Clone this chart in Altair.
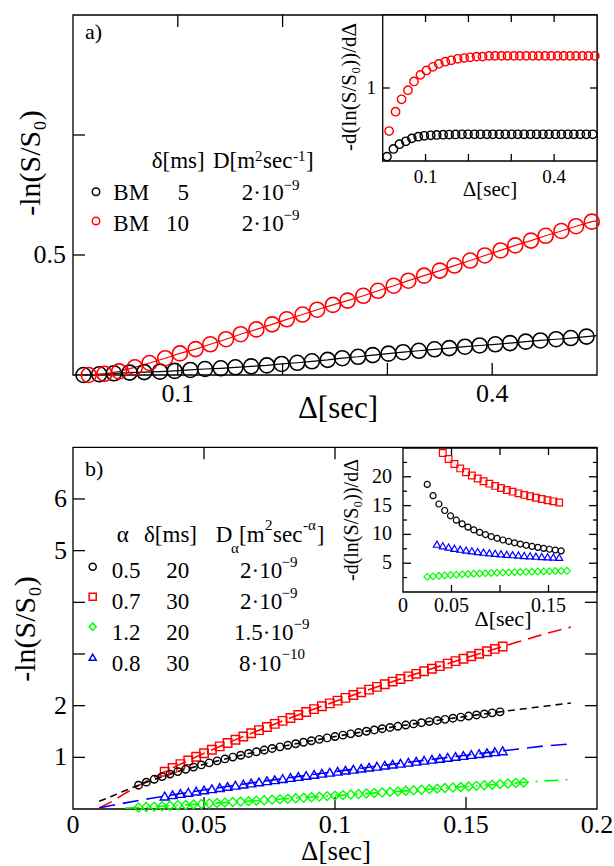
import altair as alt
import pandas as pd

# ------------------------------------------------------------------ data
# panel a) main: -ln(S/S0) vs Delta [sec]  (BM, delta = 5 ms / 10 ms)
a_delta_black = [0.010, 0.025, 0.039, 0.054, 0.068, 0.083, 0.097, 0.112, 0.126, 0.141,
                 0.155, 0.170, 0.185, 0.199, 0.214, 0.228, 0.243, 0.257, 0.272, 0.286,
                 0.301, 0.315, 0.330, 0.345, 0.359, 0.374, 0.388, 0.403, 0.417, 0.432,
                 0.446, 0.461, 0.475, 0.490]
a_lnS_black = [0.000, 0.003, 0.007, 0.010, 0.012, 0.014, 0.017, 0.021, 0.025, 0.028,
               0.032, 0.036, 0.040, 0.046, 0.051, 0.057, 0.063, 0.070, 0.076, 0.083,
               0.089, 0.095, 0.101, 0.107, 0.112, 0.118, 0.123, 0.128, 0.133, 0.139,
               0.144, 0.149, 0.154, 0.160]
a_delta_red = [0.015, 0.030, 0.044, 0.059, 0.073, 0.088, 0.102, 0.117, 0.131, 0.146,
               0.160, 0.175, 0.190, 0.204, 0.219, 0.233, 0.248, 0.262, 0.277, 0.291,
               0.306, 0.320, 0.335, 0.350, 0.364, 0.379, 0.393, 0.408, 0.422, 0.437,
               0.451, 0.466, 0.480, 0.495]
a_lnS_red = [0.000, 0.005, 0.015, 0.032, 0.050, 0.070, 0.090, 0.108, 0.128, 0.149,
             0.170, 0.190, 0.211, 0.232, 0.252, 0.272, 0.292, 0.310, 0.330, 0.351,
             0.372, 0.393, 0.414, 0.435, 0.456, 0.477, 0.498, 0.519, 0.540, 0.560,
             0.580, 0.600, 0.620, 0.639]
# end of the fitted lines at Delta = 0.5
a_fit_end_delta = 0.5
a_fit_end_black = 0.164
a_fit_end_red = 0.642

# panel a) inset: -d(ln(S/S0))/dDelta
ai_deriv_black = [0.060, 0.165, 0.230, 0.270, 0.310, 0.333, 0.345, 0.352, 0.357, 0.360,
                  0.362, 0.364, 0.365, 0.366, 0.366, 0.366, 0.366, 0.366, 0.366, 0.366,
                  0.366, 0.366, 0.366, 0.366, 0.366, 0.366, 0.366, 0.366, 0.366, 0.366,
                  0.366, 0.366, 0.366, 0.366]
ai_deriv_red = [0.410, 0.675, 0.845, 0.970, 1.090, 1.180, 1.240, 1.290, 1.330, 1.360,
                1.380, 1.400, 1.410, 1.420, 1.430, 1.430, 1.440, 1.440, 1.440, 1.440,
                1.440, 1.440, 1.440, 1.440, 1.440, 1.440, 1.440, 1.440, 1.440, 1.440,
                1.440, 1.440, 1.440, 1.440]

# panel b) main
b_delta_black = [0.025, 0.028, 0.031, 0.034, 0.037, 0.040, 0.043, 0.046, 0.049, 0.052,
                 0.055, 0.058, 0.061, 0.064, 0.067, 0.070, 0.073, 0.076, 0.079, 0.082,
                 0.085, 0.088, 0.091, 0.094, 0.097, 0.100, 0.103, 0.106, 0.109, 0.112,
                 0.115, 0.118, 0.121, 0.124, 0.127, 0.130, 0.133, 0.136, 0.139, 0.142,
                 0.145, 0.148, 0.151, 0.154, 0.157, 0.160, 0.163]
b_lnS_black = [0.460, 0.519, 0.575, 0.627, 0.676, 0.724, 0.768, 0.811, 0.853, 0.893,
               0.932, 0.969, 1.005, 1.040, 1.075, 1.108, 1.141, 1.172, 1.203, 1.233,
               1.263, 1.292, 1.321, 1.348, 1.376, 1.402, 1.429, 1.455, 1.480, 1.505,
               1.530, 1.554, 1.578, 1.601, 1.625, 1.647, 1.670, 1.692, 1.714, 1.735,
               1.757, 1.778, 1.799, 1.820, 1.840, 1.861, 1.880]
b_delta_red = [0.035, 0.038, 0.041, 0.044, 0.047, 0.050, 0.053, 0.056, 0.059, 0.062,
               0.065, 0.068, 0.071, 0.074, 0.077, 0.080, 0.083, 0.086, 0.089, 0.092,
               0.095, 0.098, 0.101, 0.104, 0.107, 0.110, 0.113, 0.116, 0.119, 0.122,
               0.125, 0.128, 0.131, 0.134, 0.137, 0.140, 0.143, 0.146, 0.149, 0.152,
               0.155, 0.158, 0.161, 0.164]
b_lnS_red = [0.720, 0.795, 0.868, 0.940, 1.010, 1.078, 1.146, 1.212, 1.276, 1.341,
             1.403, 1.466, 1.527, 1.587, 1.647, 1.705, 1.762, 1.820, 1.877, 1.933,
             1.988, 2.044, 2.098, 2.151, 2.206, 2.258, 2.310, 2.363, 2.415, 2.466,
             2.517, 2.566, 2.616, 2.666, 2.715, 2.765, 2.814, 2.862, 2.909, 2.956,
             3.005, 3.052, 3.098, 3.145]
b_delta_blue = [0.035, 0.038, 0.041, 0.044, 0.047, 0.050, 0.053, 0.056, 0.059, 0.062,
                0.065, 0.068, 0.071, 0.074, 0.077, 0.080, 0.083, 0.086, 0.089, 0.092,
                0.095, 0.098, 0.101, 0.104, 0.107, 0.110, 0.113, 0.116, 0.119, 0.122,
                0.125, 0.128, 0.131, 0.134, 0.137, 0.140, 0.143, 0.146, 0.149, 0.152,
                0.155, 0.158, 0.161, 0.164]
b_lnS_blue = [0.250, 0.275, 0.299, 0.322, 0.346, 0.369, 0.392, 0.415, 0.437, 0.460,
              0.481, 0.503, 0.524, 0.546, 0.567, 0.588, 0.609, 0.629, 0.650, 0.670,
              0.691, 0.711, 0.730, 0.751, 0.770, 0.790, 0.809, 0.828, 0.848, 0.867,
              0.886, 0.905, 0.924, 0.943, 0.962, 0.980, 0.999, 1.017, 1.036, 1.054,
              1.072, 1.090, 1.108, 1.126]
b_delta_green = [0.025, 0.028, 0.031, 0.034, 0.037, 0.040, 0.043, 0.046, 0.049, 0.052,
                 0.055, 0.058, 0.061, 0.064, 0.067, 0.070, 0.073, 0.076, 0.079, 0.082,
                 0.085, 0.088, 0.091, 0.094, 0.097, 0.100, 0.103, 0.106, 0.109, 0.112,
                 0.115, 0.118, 0.121, 0.124, 0.127, 0.130, 0.133, 0.136, 0.139, 0.142,
                 0.145, 0.148, 0.151, 0.154, 0.157, 0.160, 0.163, 0.166, 0.169, 0.172]
b_lnS_green = [0.030, 0.038, 0.046, 0.054, 0.063, 0.071, 0.080, 0.089, 0.097, 0.106,
               0.115, 0.124, 0.134, 0.143, 0.152, 0.162, 0.171, 0.181, 0.190, 0.200,
               0.209, 0.219, 0.229, 0.239, 0.249, 0.259, 0.269, 0.279, 0.290, 0.300,
               0.310, 0.321, 0.331, 0.341, 0.352, 0.362, 0.373, 0.384, 0.394, 0.405,
               0.416, 0.426, 0.437, 0.448, 0.459, 0.470, 0.481, 0.492, 0.503, 0.514]

# panel b) theory curves (dashed)
bt_delta = [0.010, 0.015, 0.020, 0.025, 0.030, 0.035, 0.040, 0.050, 0.060, 0.070, 0.080,
            0.090, 0.100, 0.110, 0.120, 0.130, 0.140, 0.150, 0.160, 0.170, 0.180, 0.190]
bt_black = [0.150, 0.250, 0.360, 0.460, 0.556, 0.642, 0.724, 0.866, 0.993, 1.108, 1.213,
            1.311, 1.402, 1.489, 1.570, 1.647, 1.722, 1.792, 1.861, 1.926, 1.989, 2.050]
bt_red = [0.020, 0.148, 0.306, 0.453, 0.590, 0.720, 0.844, 1.078, 1.298, 1.506, 1.705,
          1.896, 2.080, 2.258, 2.431, 2.601, 2.765, 2.926, 3.082, 3.236, 3.389, 3.520]
bt_blue = [0.020, 0.071, 0.119, 0.164, 0.208, 0.250, 0.291, 0.369, 0.445, 0.518, 0.588,
           0.657, 0.724, 0.790, 0.854, 0.918, 0.980, 1.041, 1.102, 1.162, 1.221, 1.260]
bt_green_delta = [0.020, 0.025, 0.030, 0.040, 0.050, 0.060, 0.070, 0.080, 0.090, 0.100,
                  0.110, 0.120, 0.130, 0.140, 0.150, 0.160, 0.170, 0.180, 0.190]
bt_green = [0.017, 0.030, 0.043, 0.071, 0.100, 0.130, 0.162, 0.193, 0.226, 0.259,
            0.293, 0.327, 0.362, 0.398, 0.434, 0.470, 0.507, 0.544, 0.570]

# panel b) inset: -d(ln(S/S0))/dDelta
bi_delta_black = [0.025, 0.031, 0.037, 0.043, 0.049, 0.055, 0.061, 0.067, 0.073, 0.079,
                  0.085, 0.091, 0.097, 0.103, 0.109, 0.115, 0.121, 0.127, 0.133, 0.139,
                  0.145, 0.151, 0.157, 0.163]
bi_deriv_black = [18.68, 16.73, 15.28, 14.15, 13.23, 12.47, 11.82, 11.27, 10.78, 10.35,
                  9.97, 9.63, 9.32, 9.03, 8.78, 8.54, 8.32, 8.11, 7.92, 7.75,
                  7.58, 7.42, 7.28, 7.14]
bi_delta_red = [0.041, 0.047, 0.053, 0.059, 0.065, 0.071, 0.077, 0.083, 0.089, 0.095,
                0.101, 0.107, 0.113, 0.119, 0.125, 0.131, 0.137, 0.143, 0.149, 0.155,
                0.161]
bi_deriv_red = [24.12, 23.08, 22.21, 21.46, 20.80, 20.22, 19.70, 19.23, 18.81, 18.42,
                18.06, 17.72, 17.42, 17.13, 16.86, 16.61, 16.37, 16.15, 15.94, 15.74,
                15.55]
bi_delta_blue = [0.035, 0.041, 0.047, 0.053, 0.059, 0.065, 0.071, 0.077, 0.083, 0.089,
                 0.095, 0.101, 0.107, 0.113, 0.119, 0.125, 0.131, 0.137, 0.143, 0.149,
                 0.155, 0.161]
bi_deriv_blue = [8.30, 8.03, 7.80, 7.60, 7.43, 7.28, 7.15, 7.03, 6.91, 6.81,
                 6.72, 6.64, 6.55, 6.48, 6.41, 6.34, 6.28, 6.22, 6.16, 6.11,
                 6.06, 6.01]
bi_delta_green = [0.025, 0.031, 0.037, 0.043, 0.049, 0.055, 0.061, 0.067, 0.073, 0.079,
                  0.085, 0.091, 0.097, 0.103, 0.109, 0.115, 0.121, 0.127, 0.133, 0.139,
                  0.145, 0.151, 0.157, 0.163, 0.169]
bi_deriv_green = [2.62, 2.72, 2.81, 2.88, 2.95, 3.01, 3.07, 3.12, 3.17, 3.22,
                  3.26, 3.30, 3.34, 3.37, 3.41, 3.44, 3.47, 3.50, 3.53, 3.56,
                  3.58, 3.61, 3.64, 3.66, 3.68]

# axis domains, ticks and labels
a_x_dom, a_y_dom = [0.0, 0.5], [0.0, 1.5]
ai_x_dom, ai_y_dom = [0.0, 0.5], [0.0, 2.0]
b_x_dom, b_y_dom = [0.0, 0.2], [0.0, 7.0]
bi_x_dom, bi_y_dom = [0.0, 0.2], [0.0, 25.0]
a_x_ticks, a_x_labels = [0.1, 0.2, 0.3, 0.4], [0.1, 0.4]
a_y_ticks, a_y_labels = [0.5, 1.0], [0.5]
ai_x_ticks, ai_x_labels = [0.1, 0.2, 0.3, 0.4], [0.1, 0.4]
ai_y_ticks, ai_y_labels = [1.0], [1.0]
b_x_ticks, b_x_labels = [0.05, 0.1, 0.15], [0.0, 0.05, 0.1, 0.15, 0.2]
b_y_ticks, b_y_labels = [1, 2, 3, 4, 5, 6], [1, 2, 5, 6]
bi_x_ticks, bi_x_labels = [0.05, 0.1, 0.15], [0.0, 0.05, 0.15]
bi_y_major, bi_y_minor, bi_y_labels = [5, 10, 15, 20], [2.5, 7.5, 12.5, 17.5, 22.5], [5, 10, 15, 20]

# axis titles
x_title = "Δ[sec]"
y_title = "-ln(S/S₀)"
inset_y_title = "-d(ln(S/S₀))/dΔ"

# legend texts
legA_model = ["BM", "BM"]
legA_delta = ["5", "10"]
legA_D = ["2·10", "2·10"]
legA_exp = ["−9", "−9"]
legB_alpha = ["0.5", "0.7", "1.2", "0.8"]
legB_delta = ["20", "30", "20", "30"]
legB_D = ["2·10", "2·10", "1.5·10", "8·10"]
legB_exp = ["−9", "−9", "−9", "−10"]

# ------------------------------------------------------------------ style / layout
FONT = "'Liberation Serif', 'Times New Roman', 'DejaVu Serif', serif"
BLACK, RED, GREEN, BLUE = "#000000", "#ff0000", "#00ff00", "#0000ff"
W, H = 524, 794
A_XR, A_YR = [0, W], [360, 0]
AI_XR, AI_YR = [309.7, W], [146, 0]
B_XR, B_YR = [0, W], [H, 432.3]
BI_XR, BI_YR = [330, W], [577, 433]


def sc(dom, rng):
    return alt.Scale(domain=dom, range=rng, nice=False, zero=False)


def frame(xdom, ydom, xs, ys, opaque):
    df = pd.DataFrame({"x0": [xdom[0]], "x1": [xdom[1]], "y0": [ydom[0]], "y1": [ydom[1]]})
    return alt.Chart(df).mark_rect(fill="white", fillOpacity=1 if opaque else 0,
                                   stroke="black", strokeWidth=1.3).encode(
        x=alt.X("x0:Q", scale=xs, axis=None), x2="x1:Q",
        y=alt.Y("y0:Q", scale=ys, axis=None), y2="y1:Q")


def xticks(vals, xs, y0, y1):
    return alt.Chart(pd.DataFrame({"t": vals})).mark_rule(color="black", strokeWidth=1.3).encode(
        x=alt.X("t:Q", scale=xs, axis=None), y=alt.value(y0), y2=alt.value(y1))


def yticks(vals, ys, x0, x1):
    return alt.Chart(pd.DataFrame({"t": vals})).mark_rule(color="black", strokeWidth=1.3).encode(
        y=alt.Y("t:Q", scale=ys, axis=None), x=alt.value(x0), x2=alt.value(x1))


def xlabels(vals, xs, y, size):
    return alt.Chart(pd.DataFrame({"t": vals})).mark_text(
        font=FONT, fontSize=size, align="center", baseline="alphabetic", color="black").encode(
        x=alt.X("t:Q", scale=xs, axis=None), y=alt.value(y),
        text=alt.Text("t:Q", format="~g"))


def ylabels(vals, ys, x, size):
    return alt.Chart(pd.DataFrame({"t": vals})).mark_text(
        font=FONT, fontSize=size, align="right", baseline="middle", color="black").encode(
        y=alt.Y("t:Q", scale=ys, axis=None), x=alt.value(x),
        text=alt.Text("t:Q", format="~g"))


def pts(xv, yv, xs, ys, shape, color, size, sw):
    df = pd.DataFrame({"d": xv, "v": yv})
    return alt.Chart(df).mark_point(shape=shape, filled=False, color=color, size=size,
                                    strokeWidth=sw, opacity=1).encode(
        x=alt.X("d:Q", scale=xs, axis=None), y=alt.Y("v:Q", scale=ys, axis=None))


def line(xv, yv, xs, ys, color, sw, dash=None):
    df = pd.DataFrame({"d": xv, "v": yv})
    kw = dict(color=color, strokeWidth=sw)
    if dash:
        kw["strokeDash"] = dash
    return alt.Chart(df).mark_line(**kw).encode(
        x=alt.X("d:Q", scale=xs, axis=None), y=alt.Y("v:Q", scale=ys, axis=None))


def txt(s, x, y, size, align="left", baseline="alphabetic", angle=0):
    return alt.Chart(alt.Data(values=[{"k": 0}])).mark_text(
        text=s, font=FONT, fontSize=size, align=align, baseline=baseline, angle=angle,
        color="black").encode(x=alt.value(x), y=alt.value(y))


def sym(shape, color, size, x, y):
    return alt.Chart(alt.Data(values=[{"k": 0}])).mark_point(
        shape=shape, filled=False, color=color, size=size, strokeWidth=1.5,
        opacity=1).encode(x=alt.value(x), y=alt.value(y))


# ------------------------------------------------------------------ panel a main
axs, ays = sc(a_x_dom, A_XR), sc(a_y_dom, A_YR)
A_main = alt.layer(
    frame(a_x_dom, a_y_dom, axs, ays, False),
    xticks(a_x_ticks, axs, 360, 348),
    xticks(a_x_ticks, axs, 0, 12),
    yticks(a_y_ticks, ays, 0, 12),
    xlabels(a_x_labels, axs, 387, 26),
    ylabels(a_y_labels, ays, -7, 26),
    line(a_delta_black + [a_fit_end_delta], a_lnS_black + [a_fit_end_black], axs, ays, BLACK, 1.2),
    line(a_delta_red + [a_fit_end_delta], a_lnS_red + [a_fit_end_red], axs, ays, RED, 1.2),
    pts(a_delta_black, a_lnS_black, axs, ays, "circle", BLACK, 225, 1.6),
    pts(a_delta_red, a_lnS_red, axs, ays, "circle", RED, 225, 1.6),
)

# ------------------------------------------------------------------ panel b main
bxs, bys = sc(b_x_dom, B_XR), sc(b_y_dom, B_YR)
B_main = alt.layer(
    frame(b_x_dom, b_y_dom, bxs, bys, False),
    xticks(b_x_ticks, bxs, H, H - 12),
    xticks(b_x_ticks, bxs, 432.3, 444.3),
    yticks(b_y_ticks, bys, 0, 12),
    yticks(b_y_ticks, bys, W, W - 12),
    xlabels(b_x_labels, bxs, 817.5, 26),
    ylabels(b_y_labels, bys, -6, 26),
    line(bt_delta, bt_red, bxs, bys, RED, 1.6, [14, 7]),
    line(bt_delta, bt_black, bxs, bys, BLACK, 1.6, [7, 5]),
    line(bt_delta, bt_blue, bxs, bys, BLUE, 1.6, [16, 8]),
    line(bt_green_delta, bt_green, bxs, bys, GREEN, 1.6, [14, 7, 2, 7]),
    pts(b_delta_red, b_lnS_red, bxs, bys, "square", RED, 72, 1.4),
    pts(b_delta_black, b_lnS_black, bxs, bys, "circle", BLACK, 56, 1.4),
    pts(b_delta_blue, b_lnS_blue, bxs, bys, "triangle-up", BLUE, 80, 1.4),
    pts(b_delta_green, b_lnS_green, bxs, bys, "diamond", GREEN, 80, 1.4),
)

# ------------------------------------------------------------------ panel a inset
aixs, aiys = sc(ai_x_dom, AI_XR), sc(ai_y_dom, AI_YR)
A_inset = alt.layer(
    frame(ai_x_dom, ai_y_dom, aixs, aiys, True),
    xticks(ai_x_ticks, aixs, 0, 7),
    xticks(ai_x_ticks, aixs, 146, 139),
    yticks(ai_y_ticks, aiys, 309.7, 316.7),
    yticks(ai_y_ticks, aiys, W, W - 7),
    xlabels(ai_x_labels, aixs, 168, 19),
    ylabels(ai_y_labels, aiys, 303, 19),
    pts(a_delta_black, ai_deriv_black, aixs, aiys, "circle", BLACK, 70, 1.4),
    pts(a_delta_red, ai_deriv_red, aixs, aiys, "circle", RED, 70, 1.4),
)

# ------------------------------------------------------------------ panel b inset
bixs, biys = sc(bi_x_dom, BI_XR), sc(bi_y_dom, BI_YR)
B_inset = alt.layer(
    frame(bi_x_dom, bi_y_dom, bixs, biys, True),
    xticks(bi_x_ticks, bixs, 433, 440),
    xticks(bi_x_ticks, bixs, 577, 570),
    yticks(bi_y_major, biys, 330, 338),
    yticks(bi_y_minor, biys, 330, 334),
    yticks(bi_y_major, biys, W, W - 8),
    yticks(bi_y_minor, biys, W, W - 4),
    xlabels(bi_x_labels, bixs, 597, 20),
    ylabels(bi_y_labels, biys, 319, 20),
    pts(bi_delta_red, bi_deriv_red, bixs, biys, "square", RED, 45, 1.2),
    pts(bi_delta_black, bi_deriv_black, bixs, biys, "circle", BLACK, 36, 1.2),
    pts(bi_delta_blue, bi_deriv_blue, bixs, biys, "triangle-up", BLUE, 50, 1.2),
    pts(bi_delta_green, bi_deriv_green, bixs, biys, "diamond", GREEN, 45, 1.2),
)

# ------------------------------------------------------------------ titles / annotations / legends
texts = [
    txt(x_title, 265, 403, 31, "center"),
    txt(x_title, 263, 845, 27, "center"),
    txt(y_title, -42, 148, 30, "center", "middle", 270),
    txt(y_title, -47, 614, 30, "center", "middle", 270),
    txt(x_title, 417, 180.7, 21, "center"),
    txt(inset_y_title, 277, 72, 21, "center", "middle", 270),
    txt(x_title, 430, 611, 22, "center"),
    txt(inset_y_title, 279, 505, 20, "center", "middle", 270),
    txt("a)", 12, 24, 22),
    txt("b)", 12, 461, 22),
]

# legend a
texts += [txt("δ[ms]", 78.7, 153, 23), txt("D[m", 140, 153, 23), txt("2", 182, 146, 15),
          txt("sec", 190, 153, 23), txt("-1", 220, 146, 15), txt("]", 233, 153, 23)]
a_rows_y = [185, 215.7]
a_sym_y = [176.7, 206]
a_colors = [BLACK, RED]
for i in range(2):
    texts += [sym("circle", a_colors[i], 56, 23, a_sym_y[i]),
              txt(legA_model[i], 40.3, a_rows_y[i], 23),
              txt(legA_delta[i], 116, a_rows_y[i], 23, "right"),
              txt(legA_D[i], 168.7, a_rows_y[i], 23),
              txt(legA_exp[i], 210.5, a_rows_y[i] - 10.5, 15)]

# legend b
texts += [txt("α", 43.7, 526.5, 23), txt("δ[ms]", 71, 526.5, 23), txt("D", 142.7, 526.5, 23),
          txt("α", 158, 538, 15), txt("[m", 166, 526.5, 23), txt("2", 192, 515, 15),
          txt("sec", 200, 526.5, 23), txt("-α", 230, 515, 15), txt("]", 243.7, 526.5, 23)]
b_rows_y = [563.3, 594.3, 625, 655.7]
b_sym_y = [551.7, 581.7, 611.7, 642.3]
b_shapes = ["circle", "square", "diamond", "triangle-up"]
b_colors = [BLACK, RED, GREEN, BLUE]
b_D_x = [167, 167, 161, 166]
b_exp_x = [208.5, 208.5, 220.5, 208.5]
for i in range(4):
    texts += [sym(b_shapes[i], b_colors[i], 50, 19.7, b_sym_y[i]),
              txt(legB_alpha[i], 38.7, b_rows_y[i], 23),
              txt(legB_delta[i], 104.7, b_rows_y[i], 23, "center"),
              txt(legB_D[i], b_D_x[i], b_rows_y[i], 23),
              txt(legB_exp[i], b_exp_x[i], b_rows_y[i] - 11.5, 15)]

chart = alt.layer(A_main, B_main, A_inset, B_inset, *texts).resolve_scale(
    x="independent", y="independent"
).properties(
    width=W, height=H,
    background="white",
    autosize=alt.AutoSizeParams(type="none"),
    padding={"left": 73, "top": 15, "right": 17, "bottom": 57},
).configure_view(stroke=None)

chart.save("out.html", embed_options={"renderer": "svg", "actions": False})
